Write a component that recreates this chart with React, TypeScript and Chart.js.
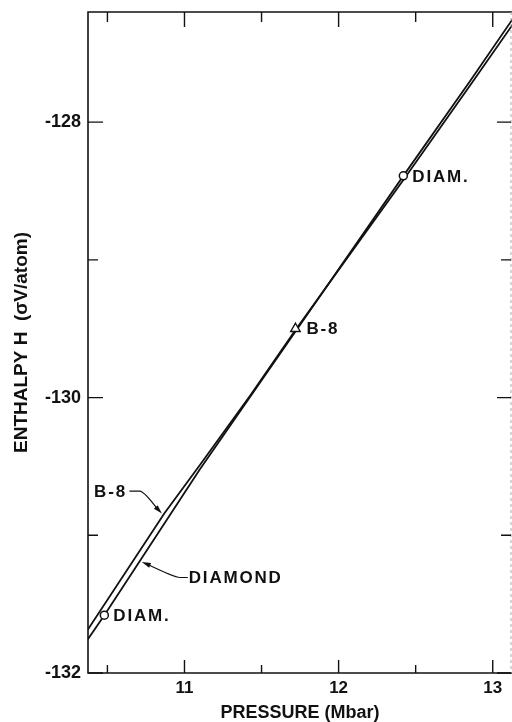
import React, { useEffect, useRef } from 'react';
import { Chart, registerables } from 'chart.js';

Chart.register(...registerables);

// ---- data ----
const diamondP = [10.37, 10.48, 11.10, 11.72, 12.42, 12.86, 13.13];
const diamondH = [-131.76, -131.58, -130.52, -129.52, -128.39, -127.69, -127.25];

const b8P = [10.37, 10.87, 11.10, 11.43, 11.72, 12.42, 12.88, 13.13];
const b8H = [-131.69, -130.84, -130.49, -129.98, -129.51, -128.42, -127.69, -127.29];

const diamMarkP = [10.48, 12.42];
const diamMarkH = [-131.58, -128.39];
const diamMarkText = ['DIAM.', 'DIAM.'];

const b8MarkP = [11.72];
const b8MarkH = [-129.50];
const b8MarkText = ['B-8'];

const xTickValues = [10.5, 11, 11.5, 12, 12.5, 13];
const xTickLabels = ['', '11', '', '12', '', '13'];
const yTickValues = [-132, -131, -130, -129, -128];
const yTickLabels = ['-132', '', '-130', '', '-128'];

const xMin = 10.374;
const xMax = 13.125;
const yMin = -132;
const yMax = -127.2;

const xTitle = 'PRESSURE (Mbar)';
const yTitle = 'ENTHALPY H  (σV/atom)';

const calloutB8P = 10.86;
const calloutB8Text = 'B-8';
const calloutDiamP = 10.71;
const calloutDiamText = 'DIAMOND';

const FAMILY = '"Liberation Sans", Arial, Helvetica, sans-serif';
const INK = '#111';

function interp(ps: number[], hs: number[], p: number): number {
  for (let i = 0; i < ps.length - 1; i++) {
    if (p >= ps[i] && p <= ps[i + 1]) {
      const t = (p - ps[i]) / (ps[i + 1] - ps[i]);
      return hs[i] + t * (hs[i + 1] - hs[i]);
    }
  }
  return hs[hs.length - 1];
}

function arrowHead(ctx: CanvasRenderingContext2D, fx: number, fy: number, tx: number, ty: number) {
  const a = Math.atan2(ty - fy, tx - fx);
  const len = 9;
  const hw = 2.6;
  const bx = tx - Math.cos(a) * len;
  const by = ty - Math.sin(a) * len;
  ctx.beginPath();
  ctx.moveTo(tx, ty);
  ctx.lineTo(bx + Math.sin(a) * hw, by - Math.cos(a) * hw);
  ctx.lineTo(bx - Math.sin(a) * hw, by + Math.cos(a) * hw);
  ctx.closePath();
  ctx.fill();
}

const framePlugin = {
  id: 'frameAndNotes',
  afterDraw(chart: any) {
    const ctx: CanvasRenderingContext2D = chart.ctx;
    const { left, right, top, bottom } = chart.chartArea;
    const xs = chart.scales.x;
    const ys = chart.scales.y;
    ctx.save();
    ctx.strokeStyle = INK;
    ctx.fillStyle = INK;
    ctx.lineWidth = 1.6;
    ctx.lineCap = 'butt';
    ctx.beginPath();
    ctx.moveTo(right, top);
    ctx.lineTo(left, top);
    ctx.lineTo(left, bottom);
    ctx.lineTo(right, bottom);
    ctx.stroke();
    ctx.save();
    ctx.strokeStyle = '#aaa';
    ctx.lineWidth = 1;
    ctx.setLineDash([3, 3]);
    ctx.beginPath();
    ctx.moveTo(right - 1, top);
    ctx.lineTo(right - 1, bottom);
    ctx.stroke();
    ctx.restore();

    ctx.lineWidth = 1.4;
    xTickValues.forEach((v) => {
      const px = xs.getPixelForValue(v);
      const major = Number.isInteger(v);
      ctx.beginPath();
      ctx.moveTo(px, bottom);
      ctx.lineTo(px, bottom - (major ? 13 : 8));
      ctx.moveTo(px, top);
      ctx.lineTo(px, top + (major ? 15 : 10));
      ctx.stroke();
    });
    yTickValues.forEach((v) => {
      const py = ys.getPixelForValue(v);
      const major = v % 2 === 0;
      ctx.beginPath();
      ctx.moveTo(left, py);
      ctx.lineTo(left + (major ? 15 : 10), py);
      ctx.moveTo(right - 1, py);
      ctx.lineTo(right - 1 - (major ? 14 : 10), py);
      ctx.stroke();
    });

    ctx.font = `bold 17px ${FAMILY}`;
    (ctx as any).letterSpacing = '1.8px';
    ctx.textBaseline = 'middle';
    ctx.textAlign = 'left';
    diamMarkP.forEach((p, i) => {
      const px = xs.getPixelForValue(p);
      const py = ys.getPixelForValue(diamMarkH[i]);
      ctx.fillText(diamMarkText[i], px + 9, py + 1);
    });
    b8MarkP.forEach((p, i) => {
      const px = xs.getPixelForValue(p);
      const py = ys.getPixelForValue(b8MarkH[i]);
      ctx.fillText(b8MarkText[i], px + 11, py + 1);
    });

    ctx.lineWidth = 1.2;
    {
      const tx = xs.getPixelForValue(calloutB8P) - 1;
      const ty = ys.getPixelForValue(interp(b8P, b8H, calloutB8P)) - 2;
      const ex = tx - 22, ey = ty - 22.5;
      const hx = tx - 32.5;
      ctx.beginPath();
      ctx.moveTo(hx, ey);
      ctx.lineTo(ex, ey);
      ctx.quadraticCurveTo(ex + 4, ey, tx - 4, ty - 4);
      ctx.stroke();
      arrowHead(ctx, ex + 2, ey + 1, tx, ty);
      ctx.textAlign = 'right';
      ctx.fillText(calloutB8Text, tx - 35, ey + 1.5);
    }
    {
      const tx = xs.getPixelForValue(calloutDiamP) + 2;
      const ty = ys.getPixelForValue(interp(diamondP, diamondH, calloutDiamP)) + 1;
      const ex = tx + 38, ey = ty + 15.5;
      const hx = tx + 46;
      ctx.beginPath();
      ctx.moveTo(hx, ey);
      ctx.lineTo(ex, ey);
      ctx.quadraticCurveTo(ex - 5, ey, tx + 5, ty + 2);
      ctx.stroke();
      arrowHead(ctx, ex - 3, ey - 1, tx, ty);
      ctx.textAlign = 'left';
      ctx.fillText(calloutDiamText, hx + 1, ey + 0.5);
    }
    ctx.restore();
  },
};

export default function App() {
  const ref = useRef<HTMLCanvasElement | null>(null);
  useEffect(() => {
    if (!ref.current) return;
    const chart = new Chart(ref.current, {
      type: 'scatter',
      data: {
        datasets: [
          {
            label: 'diamond points',
            data: diamMarkP.map((p, i) => ({ x: p, y: diamMarkH[i] })),
            showLine: false,
            pointStyle: 'circle',
            pointRadius: 4,
            pointBorderWidth: 1.5,
            pointBackgroundColor: '#fff',
            pointBorderColor: INK,
          },
          {
            label: 'B-8 point',
            data: b8MarkP.map((p, i) => ({ x: p, y: b8MarkH[i] })),
            showLine: false,
            pointStyle: 'triangle',
            pointRadius: 5.5,
            pointBorderWidth: 1.4,
            pointBackgroundColor: '#fff',
            pointBorderColor: INK,
          },
          {
            label: 'B-8',
            data: b8P.map((p, i) => ({ x: p, y: b8H[i] })),
            showLine: true,
            borderColor: INK,
            borderWidth: 1.8,
            pointRadius: 0,
            tension: 0,
          },
          {
            label: 'DIAMOND',
            data: diamondP.map((p, i) => ({ x: p, y: diamondH[i] })),
            showLine: true,
            borderColor: INK,
            borderWidth: 1.8,
            pointRadius: 0,
            tension: 0,
          },
        ],
      },
      options: {
        responsive: false,
        animation: false,
        devicePixelRatio: 1,
        events: [],
        layout: { autoPadding: false, padding: { top: 12, right: 0, left: 0, bottom: 0 } },
        plugins: { legend: { display: false }, tooltip: { enabled: false } },
        scales: {
          x: {
            type: 'linear',
            min: xMin,
            max: xMax,
            afterBuildTicks: (s: any) => {
              s.ticks = xTickValues.map((v) => ({ value: v }));
            },
            afterFit: (s: any) => {
              s.height = 49;
              s.paddingLeft = 0;
              s.paddingRight = 0;
              s.paddingTop = 0;
              s.paddingBottom = 0;
            },
            grid: { display: false, drawTicks: false },
            border: { display: false },
            ticks: {
              autoSkip: false,
              maxRotation: 0,
              padding: 5,
              color: INK,
              font: { family: FAMILY, size: 17, weight: 'bold' },
              callback: (v: any) => {
                const i = xTickValues.indexOf(Number(v));
                return i >= 0 ? xTickLabels[i] : '';
              },
            },
            title: {
              display: true,
              text: xTitle,
              color: INK,
              font: { family: FAMILY, size: 18, weight: 'bold', lineHeight: 1 },
              padding: { top: 0, bottom: 0 },
            },
          },
          y: {
            type: 'linear',
            min: yMin,
            max: yMax,
            afterBuildTicks: (s: any) => {
              s.ticks = yTickValues.map((v) => ({ value: v }));
            },
            afterFit: (s: any) => {
              s.width = 88;
              s.paddingLeft = 0;
              s.paddingRight = 0;
              s.paddingTop = 0;
              s.paddingBottom = 0;
            },
            grid: { display: false, drawTicks: false },
            border: { display: false },
            ticks: {
              autoSkip: false,
              padding: 7,
              color: INK,
              font: { family: FAMILY, size: 18, weight: 'bold' },
              callback: (v: any) => {
                const i = yTickValues.indexOf(Number(v));
                return i >= 0 ? yTickLabels[i] : '';
              },
            },
            title: {
              display: true,
              text: yTitle,
              color: INK,
              font: { family: FAMILY, size: 19, weight: 'bold', lineHeight: 1 },
              padding: { top: 12, bottom: 0 },
            },
          },
        },
      },
      plugins: [framePlugin],
    });
    return () => chart.destroy();
  }, []);
  return (
    <div style={{ position: 'absolute', left: 0, top: 0, width: 512, height: 722, background: '#fff' }}>
      <canvas ref={ref} width={512} height={722} style={{ display: 'block' }} />
    </div>
  );
}
